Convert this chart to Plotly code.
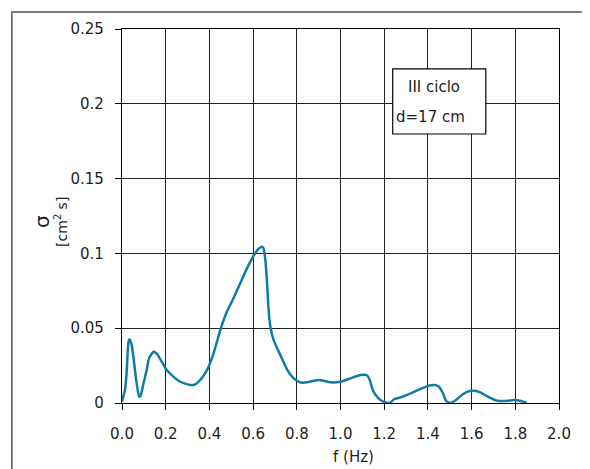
import plotly.graph_objects as go

freq = [0.0, 0.014, 0.021, 0.029, 0.034, 0.044, 0.052, 0.063, 0.078, 0.086, 0.098, 0.113, 0.124,
        0.144, 0.159, 0.182, 0.205, 0.235, 0.266, 0.312, 0.335, 0.358, 0.389, 0.419, 0.45, 0.48,
        0.51, 0.541, 0.572, 0.602, 0.625, 0.641, 0.648, 0.656, 0.664, 0.671, 0.679, 0.694, 0.725,
        0.755, 0.786, 0.817, 0.847, 0.878, 0.9, 0.923, 0.954, 1.0, 1.046, 1.092, 1.119, 1.134,
        1.145, 1.161, 1.183, 1.211, 1.226, 1.245, 1.275, 1.321, 1.367, 1.405, 1.431, 1.451, 1.469,
        1.484, 1.505, 1.528, 1.55, 1.581, 1.612, 1.642, 1.68, 1.719, 1.765, 1.795, 1.826, 1.853]
sigma = [0.001, 0.009, 0.020, 0.040, 0.0426, 0.039, 0.031, 0.0176, 0.0042, 0.0053, 0.013, 0.022, 0.030,
         0.0343, 0.033, 0.0276, 0.022, 0.0176, 0.0142, 0.012, 0.0125, 0.0154, 0.022, 0.0332, 0.0488, 0.061,
         0.070, 0.080, 0.090, 0.0983, 0.103, 0.1045, 0.1034, 0.0956, 0.080, 0.062, 0.051, 0.042, 0.032,
         0.0225, 0.0165, 0.0137, 0.0138, 0.0149, 0.0154, 0.0149, 0.0138, 0.0142, 0.0165, 0.0187, 0.0187, 0.0154,
         0.0098, 0.0053, 0.002, 0.0002, 0.0, 0.0025, 0.0038, 0.0065, 0.0094, 0.0116, 0.012, 0.0109, 0.0065,
         0.0013, 0.0, 0.002, 0.0047, 0.0076, 0.0082, 0.0069, 0.0038, 0.0015, 0.0015, 0.002, 0.0013, 0.0]

x_ticks = [0.0, 0.2, 0.4, 0.6, 0.8, 1.0, 1.2, 1.4, 1.6, 1.8, 2.0]
x_labels = ["0.0", "0.2", "0.4", "0.6", "0.8", "1.0", "1.2", "1.4", "1.6", "1.8", "2.0"]
y_ticks = [0, 0.05, 0.1, 0.15, 0.2, 0.25]
y_labels = ["0", "0.05", "0.1", "0.15", "0.2", "0.25"]

FONT = "DejaVu Sans"
TXT = "#1e1e1e"

fig = go.Figure()
fig.add_trace(go.Scatter(x=freq, y=sigma, mode="lines",
                         line=dict(color="#0e7ca6", width=2.5, shape="spline", smoothing=0.5),
                         showlegend=False, hoverinfo="skip"))

axis_common = dict(showline=True, linecolor="black", linewidth=1.2, mirror=True,
                   showgrid=True, gridcolor="#222222", gridwidth=1,
                   ticks="outside", ticklen=6, tickcolor="black", tickwidth=1.2,
                   zeroline=False, tickfont=dict(family=FONT, size=15, color=TXT))

fig.update_xaxes(range=[0, 2.0], tickvals=x_ticks, ticktext=x_labels,
                 ticklabelstandoff=11, **axis_common)
fig.update_yaxes(range=[0, 0.25], tickvals=y_ticks, ticktext=y_labels,
                 ticklabelstandoff=8, **axis_common)

# outer frame
fig.add_shape(type="rect", xref="paper", yref="paper", x0=-0.252, y0=-0.4, x1=1.3, y1=1.0455,
              line=dict(color="#555555", width=1.5), fillcolor="rgba(0,0,0,0)", layer="below")

# text box
fig.add_shape(type="rect", xref="x", yref="y", x0=1.239, x1=1.665, y0=0.1798, y1=0.2233,
              line=dict(color="black", width=1.2), fillcolor="white", layer="above")
fig.add_annotation(x=1.427, y=0.2112, xref="x", yref="y", text="III ciclo", showarrow=False,
                   font=dict(family=FONT, size=15, color=TXT), xanchor="center", yanchor="middle")
fig.add_annotation(x=1.247, y=0.1912, xref="x", yref="y", text="d=17 cm", showarrow=False,
                   font=dict(family=FONT, size=15, color=TXT), xanchor="left", yanchor="middle")

# axis titles
fig.add_annotation(x=-0.165, y=0.484, xref="paper", yref="paper",
                   text="<span style='font-size:20px'>σ</span><br>[cm<sup>2</sup> s]", textangle=-90,
                   showarrow=False,
                   font=dict(family=FONT, size=14, color=TXT), xanchor="center", yanchor="middle")
fig.add_annotation(x=0.529, y=-0.144, xref="paper", yref="paper", text="f (Hz)", showarrow=False,
                   font=dict(family=FONT, size=15, color=TXT), xanchor="center", yanchor="middle")

# page body has an 8px margin, so the figure is 8px smaller and margins shifted
fig.update_layout(width=582, height=461,
                  margin=dict(l=114, r=31.4, t=21, b=66, pad=0),
                  paper_bgcolor="white", plot_bgcolor="white")

fig.write_html("out.html")
